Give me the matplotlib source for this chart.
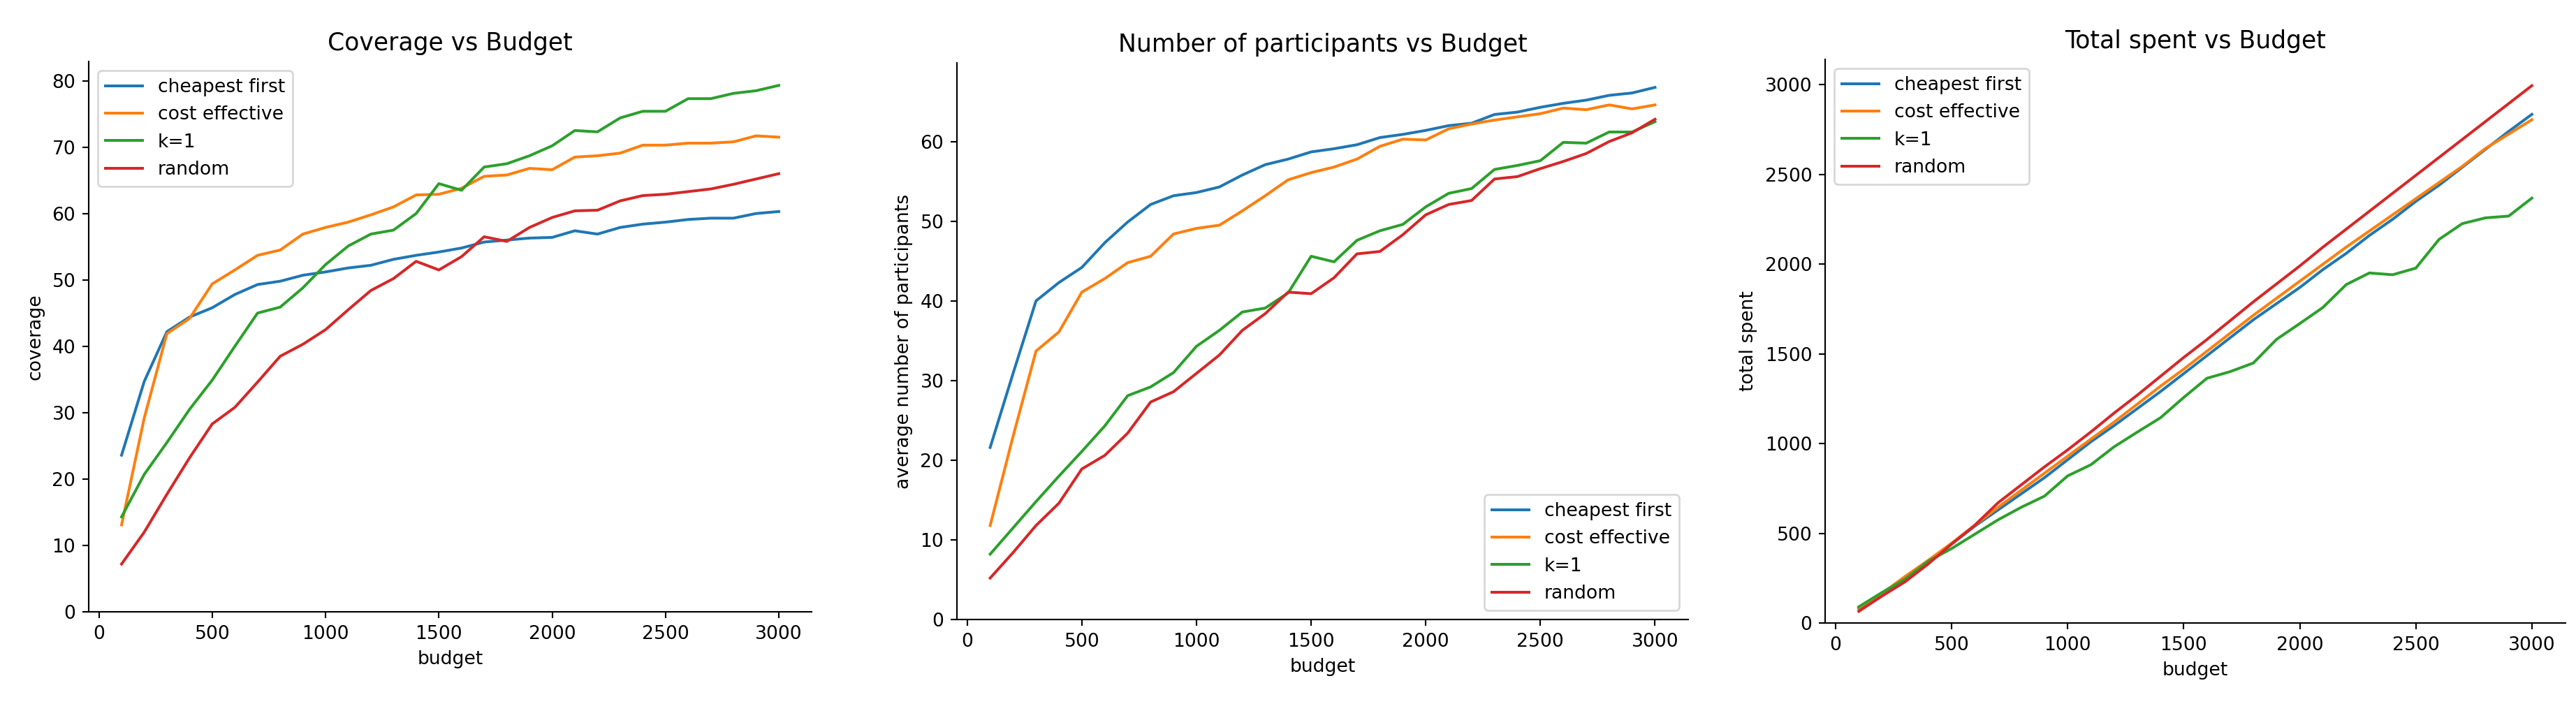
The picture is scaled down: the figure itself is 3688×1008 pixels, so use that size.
import matplotlib
matplotlib.use('Agg')
import matplotlib.pyplot as plt

# budget values (x axis)
budget = [100, 200, 300, 400, 500, 600, 700, 800, 900, 1000,
          1100, 1200, 1300, 1400, 1500, 1600, 1700, 1800, 1900, 2000,
          2100, 2200, 2300, 2400, 2500, 2600, 2700, 2800, 2900, 3000]

methods = ['cheapest first', 'cost effective', 'k=1', 'random']

# coverage
coverage_cheapest = [23.6, 34.7, 42.2, 44.4, 45.8, 47.8, 49.3, 49.8, 50.7, 51.2,
                     51.8, 52.2, 53.1, 53.7, 54.2, 54.8, 55.7, 56.0, 56.3, 56.4,
                     57.4, 56.9, 57.9, 58.4, 58.7, 59.1, 59.3, 59.3, 60.0, 60.3]
coverage_cost = [13.1, 29.2, 41.9, 44.2, 49.4, 51.5, 53.7, 54.5, 56.9, 57.9,
                 58.7, 59.8, 61.0, 62.8, 62.9, 63.8, 65.6, 65.8, 66.8, 66.6,
                 68.5, 68.7, 69.1, 70.3, 70.3, 70.6, 70.6, 70.8, 71.7, 71.5]
coverage_k1 = [14.3, 20.7, 25.5, 30.5, 34.9, 40.0, 45.0, 45.9, 48.8, 52.3,
               55.1, 56.9, 57.5, 60.0, 64.5, 63.5, 67.0, 67.5, 68.7, 70.2,
               72.5, 72.3, 74.4, 75.4, 75.4, 77.3, 77.3, 78.1, 78.5, 79.3]
coverage_random = [7.2, 12.0, 17.7, 23.2, 28.3, 30.8, 34.6, 38.5, 40.3, 42.5,
                   45.5, 48.4, 50.2, 52.8, 51.5, 53.5, 56.5, 55.8, 57.9, 59.4,
                   60.4, 60.5, 61.9, 62.7, 62.9, 63.3, 63.7, 64.4, 65.2, 66.0]

# average number of participants
part_cheapest = [21.6, 30.9, 40.0, 42.3, 44.2, 47.3, 49.9, 52.1, 53.2, 53.6,
                 54.3, 55.8, 57.1, 57.8, 58.7, 59.1, 59.6, 60.5, 60.9, 61.4,
                 62.0, 62.3, 63.4, 63.7, 64.3, 64.8, 65.2, 65.8, 66.1, 66.8]
part_cost = [11.8, 23.0, 33.7, 36.1, 41.1, 42.8, 44.8, 45.6, 48.4, 49.1,
             49.5, 51.3, 53.2, 55.2, 56.1, 56.8, 57.8, 59.4, 60.3, 60.2,
             61.6, 62.2, 62.7, 63.1, 63.5, 64.2, 64.0, 64.6, 64.1, 64.6]
part_k1 = [8.2, 11.5, 14.8, 18.0, 21.1, 24.3, 28.1, 29.2, 31.0, 34.3,
           36.3, 38.6, 39.1, 41.0, 45.6, 44.9, 47.6, 48.8, 49.6, 51.8,
           53.5, 54.1, 56.5, 57.0, 57.6, 59.9, 59.8, 61.2, 61.2, 62.5]
part_random = [5.2, 8.4, 11.8, 14.6, 18.9, 20.6, 23.4, 27.3, 28.6, 30.9,
               33.2, 36.3, 38.4, 41.1, 40.9, 42.9, 45.9, 46.2, 48.3, 50.8,
               52.1, 52.6, 55.3, 55.6, 56.6, 57.5, 58.5, 60.0, 61.1, 62.8]

# total spent
spent_cheapest = [80, 160, 250, 340, 440, 540, 630, 720, 810, 910,
                  1010, 1100, 1195, 1290, 1390, 1490, 1590, 1690, 1780, 1870,
                  1970, 2060, 2160, 2250, 2350, 2440, 2540, 2640, 2740, 2835]
spent_cost = [85, 165, 260, 350, 445, 545, 645, 740, 835, 930,
              1025, 1120, 1220, 1320, 1415, 1515, 1615, 1715, 1810, 1905,
              2000, 2095, 2185, 2275, 2365, 2455, 2545, 2645, 2725, 2805]
spent_k1 = [90, 170, 245, 345, 415, 495, 575, 645, 707, 820,
            882, 982, 1064, 1144, 1257, 1364, 1401, 1449, 1581, 1669,
            1759, 1886, 1951, 1941, 1978, 2138, 2226, 2258, 2268, 2368]
spent_random = [65, 150, 230, 330, 440, 545, 670, 770, 870, 965,
                1065, 1170, 1270, 1375, 1480, 1580, 1685, 1790, 1890, 1990,
                2095, 2195, 2295, 2395, 2495, 2595, 2695, 2795, 2895, 2995]

W, H = 3688, 1008
dpi = 192
fig = plt.figure(figsize=(W / dpi, H / dpi), dpi=dpi)

# axes boxes in pixels: left, right, top, bottom
boxes = [(127, 1162, 88, 876), (1370, 2417, 90, 887), (2613, 3673, 85, 892)]
axes = []
for l, r, t, b in boxes:
    axes.append(fig.add_axes([l / W, (H - b) / H, (r - l) / W, (b - t) / H]))

panels = [
    ('Coverage vs Budget', 'coverage',
     [coverage_cheapest, coverage_cost, coverage_k1, coverage_random], 'upper left'),
    ('Number of participants vs Budget', 'average number of participants',
     [part_cheapest, part_cost, part_k1, part_random], 'lower right'),
    ('Total spent vs Budget', 'total spent',
     [spent_cheapest, spent_cost, spent_k1, spent_random], 'upper left'),
]

for ax, (title, ylabel, series, loc) in zip(axes, panels):
    for name, vals in zip(methods, series):
        ax.plot(budget, vals, label=name)
    ax.set_ylim(bottom=0)
    ax.set_title(title, fontsize=13)
    ax.set_xlabel('budget')
    ax.set_ylabel(ylabel)
    ax.spines['top'].set_visible(False)
    ax.spines['right'].set_visible(False)
    ax.legend(loc=loc)

fig.savefig('out.png', dpi=dpi)
